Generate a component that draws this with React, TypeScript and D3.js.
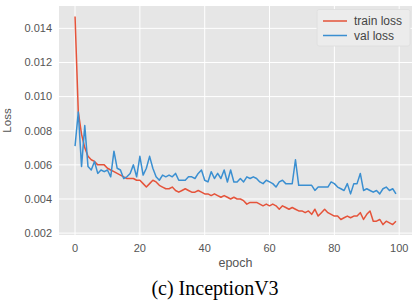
import React, { useEffect, useRef } from 'react';
import * as d3 from 'd3';

const epochs = d3.range(0, 100);

const trainLoss = [
  0.0147, 0.0091, 0.0078, 0.0070, 0.0065, 0.0063, 0.0062, 0.0060, 0.0060, 0.0060,
  0.0058, 0.0057, 0.0056, 0.0055, 0.0054, 0.0053, 0.0052, 0.0052, 0.0052, 0.0051,
  0.0051, 0.0049, 0.0047, 0.0049, 0.0051, 0.0050, 0.0048, 0.0047, 0.0046, 0.0046,
  0.0047, 0.0045, 0.0044, 0.0045, 0.0046, 0.0045, 0.0044, 0.0044, 0.0045, 0.0044,
  0.0043, 0.0043, 0.0042, 0.0043, 0.0042, 0.0041, 0.0042, 0.0041, 0.0040, 0.0041,
  0.0040, 0.0040, 0.0039, 0.0037, 0.0038, 0.0038, 0.0038, 0.0037, 0.0036, 0.0037,
  0.0036, 0.0037, 0.0036, 0.0034, 0.0036, 0.0035, 0.0034, 0.0035, 0.0034, 0.0033,
  0.0033, 0.0032, 0.0033, 0.0031, 0.0034, 0.0030, 0.0032, 0.0034, 0.0032, 0.0031,
  0.0030, 0.0030, 0.0028, 0.0029, 0.0030, 0.0029, 0.0030, 0.0030, 0.0032, 0.0028,
  0.0031, 0.0033, 0.0027, 0.0027, 0.0028, 0.0025, 0.0027, 0.0026, 0.0025, 0.0027,
];

const valLoss = [
  0.0071, 0.0091, 0.0059, 0.0083, 0.0059, 0.0057, 0.0062, 0.0055, 0.0057, 0.0056,
  0.0057, 0.0053, 0.0068, 0.0058, 0.0057, 0.0052, 0.0053, 0.0055, 0.0060, 0.0053,
  0.0065, 0.0054, 0.0058, 0.0065, 0.0058, 0.0053, 0.0051, 0.0054, 0.0053, 0.0054,
  0.0053, 0.0055, 0.0051, 0.0051, 0.0051, 0.0053, 0.0053, 0.0052, 0.0055, 0.0057,
  0.0051, 0.0050, 0.0056, 0.0052, 0.0055, 0.0052, 0.0057, 0.0050, 0.0057, 0.0050,
  0.0050, 0.0052, 0.0050, 0.0053, 0.0052, 0.0053, 0.0052, 0.0050, 0.0049, 0.0051,
  0.0050, 0.0049, 0.0047, 0.0050, 0.0051, 0.0049, 0.0049, 0.0049, 0.0063, 0.0048,
  0.0048, 0.0048, 0.0048, 0.0048, 0.0045, 0.0047, 0.0047, 0.0047, 0.0047, 0.0050,
  0.0049, 0.0047, 0.0046, 0.0045, 0.0049, 0.0043, 0.0049, 0.0049, 0.0055, 0.0045,
  0.0046, 0.0045, 0.0044, 0.0045, 0.0043, 0.0046, 0.0047, 0.0045, 0.0046, 0.0043,
];

const xTicks = [0, 20, 40, 60, 80, 100];
const yTicks = [0.002, 0.004, 0.006, 0.008, 0.010, 0.012, 0.014];
const seriesNames = ['train loss', 'val loss'];
const seriesColors = ['#e5533a', '#3a8fd1'];

const App = () => {
  const svgRef = useRef<SVGSVGElement | null>(null);

  useEffect(() => {
    if (!svgRef.current) return;
    const svg = d3.select(svgRef.current);
    svg.selectAll('*').remove();

    const W = 419;
    const H = 306;
    const plot = { left: 59, right: 412, top: 6, bottom: 235 };

    // matplotlib-style 5% margins around the data
    const xPad = (epochs[epochs.length - 1] - epochs[0]) * 0.05;
    const all = trainLoss.concat(valLoss);
    const yMin = d3.min(all) || 0;
    const yMax = d3.max(all) || 0;
    const yPad = (yMax - yMin) * 0.05;

    const x = d3.scaleLinear()
      .domain([epochs[0] - xPad, epochs[epochs.length - 1] + xPad])
      .range([plot.left, plot.right]);
    const y = d3.scaleLinear()
      .domain([yMin - yPad, yMax + yPad])
      .range([plot.bottom, plot.top]);

    svg.append('rect').attr('width', W).attr('height', H).attr('fill', '#ffffff');

    // axes background
    svg.append('rect')
      .attr('x', plot.left)
      .attr('y', plot.top)
      .attr('width', plot.right - plot.left)
      .attr('height', plot.bottom - plot.top)
      .attr('fill', '#e6e6e6');

    // grid
    const grid = svg.append('g');
    grid.selectAll('line.gx')
      .data(xTicks)
      .join('line')
      .attr('x1', d => x(d)).attr('x2', d => x(d))
      .attr('y1', plot.top).attr('y2', plot.bottom)
      .attr('stroke', '#ffffff').attr('stroke-width', 1);
    grid.selectAll('line.gy')
      .data(yTicks)
      .join('line')
      .attr('class', 'gy')
      .attr('x1', plot.left).attr('x2', plot.right)
      .attr('y1', d => y(d)).attr('y2', d => y(d))
      .attr('stroke', '#ffffff').attr('stroke-width', 1);

    // tick labels
    const font = 'Liberation Sans, Arial, sans-serif';
    svg.append('g')
      .selectAll('text')
      .data(yTicks)
      .join('text')
      .attr('x', 52)
      .attr('y', d => y(d))
      .attr('dy', '0.35em')
      .attr('text-anchor', 'end')
      .style('font-family', font)
      .style('font-size', '11px')
      .style('fill', '#555555')
      .text(d => d3.format('.3f')(d));

    svg.append('g')
      .selectAll('text')
      .data(xTicks)
      .join('text')
      .attr('x', d => x(d))
      .attr('y', 252)
      .attr('text-anchor', 'middle')
      .style('font-family', font)
      .style('font-size', '11px')
      .style('fill', '#555555')
      .text(d => String(d));

    // axis labels
    svg.append('text')
      .attr('x', (plot.left + plot.right) / 2)
      .attr('y', 267)
      .attr('text-anchor', 'middle')
      .style('font-family', font)
      .style('font-size', '12.5px')
      .style('fill', '#555555')
      .text('epoch');

    svg.append('text')
      .attr('transform', `translate(11,${(plot.top + plot.bottom) / 2}) rotate(-90)`)
      .attr('text-anchor', 'middle')
      .style('font-family', font)
      .style('font-size', '11.5px')
      .style('fill', '#555555')
      .text('Loss');

    // lines
    const line = d3.line<number>()
      .x((_, i) => x(epochs[i]))
      .y(d => y(d));

    [trainLoss, valLoss].forEach((s, i) => {
      svg.append('path')
        .datum(s)
        .attr('fill', 'none')
        .attr('stroke', seriesColors[i])
        .attr('stroke-width', 1.5)
        .attr('stroke-linejoin', 'round')
        .attr('d', line);
    });

    // legend
    const lg = svg.append('g');
    lg.append('rect')
      .attr('x', 317).attr('y', 9.5)
      .attr('width', 93).attr('height', 36.5)
      .attr('rx', 2)
      .attr('fill', '#ececec')
      .attr('stroke', '#dddddd')
      .attr('stroke-width', 0.8);
    seriesNames.forEach((name, i) => {
      const ly = 21 + i * 14.5;
      lg.append('line')
        .attr('x1', 323).attr('x2', 347)
        .attr('y1', ly).attr('y2', ly)
        .attr('stroke', seriesColors[i])
        .attr('stroke-width', 1.5);
      lg.append('text')
        .attr('x', 354)
        .attr('y', ly)
        .attr('dy', '0.35em')
        .style('font-family', font)
        .style('font-size', '12px')
        .style('fill', '#444444')
        .text(name);
    });

    // caption
    svg.append('text')
      .attr('x', 215)
      .attr('y', 295)
      .attr('text-anchor', 'middle')
      .style('font-family', 'Liberation Serif, Times New Roman, serif')
      .style('font-size', '20px')
      .style('fill', '#000000')
      .text('(c) InceptionV3');
  }, []);

  return (
    <svg
      ref={svgRef}
      width={419}
      height={306}
      style={{ position: 'absolute', left: 0, top: 0, display: 'block' }}
    />
  );
};

export default App;
